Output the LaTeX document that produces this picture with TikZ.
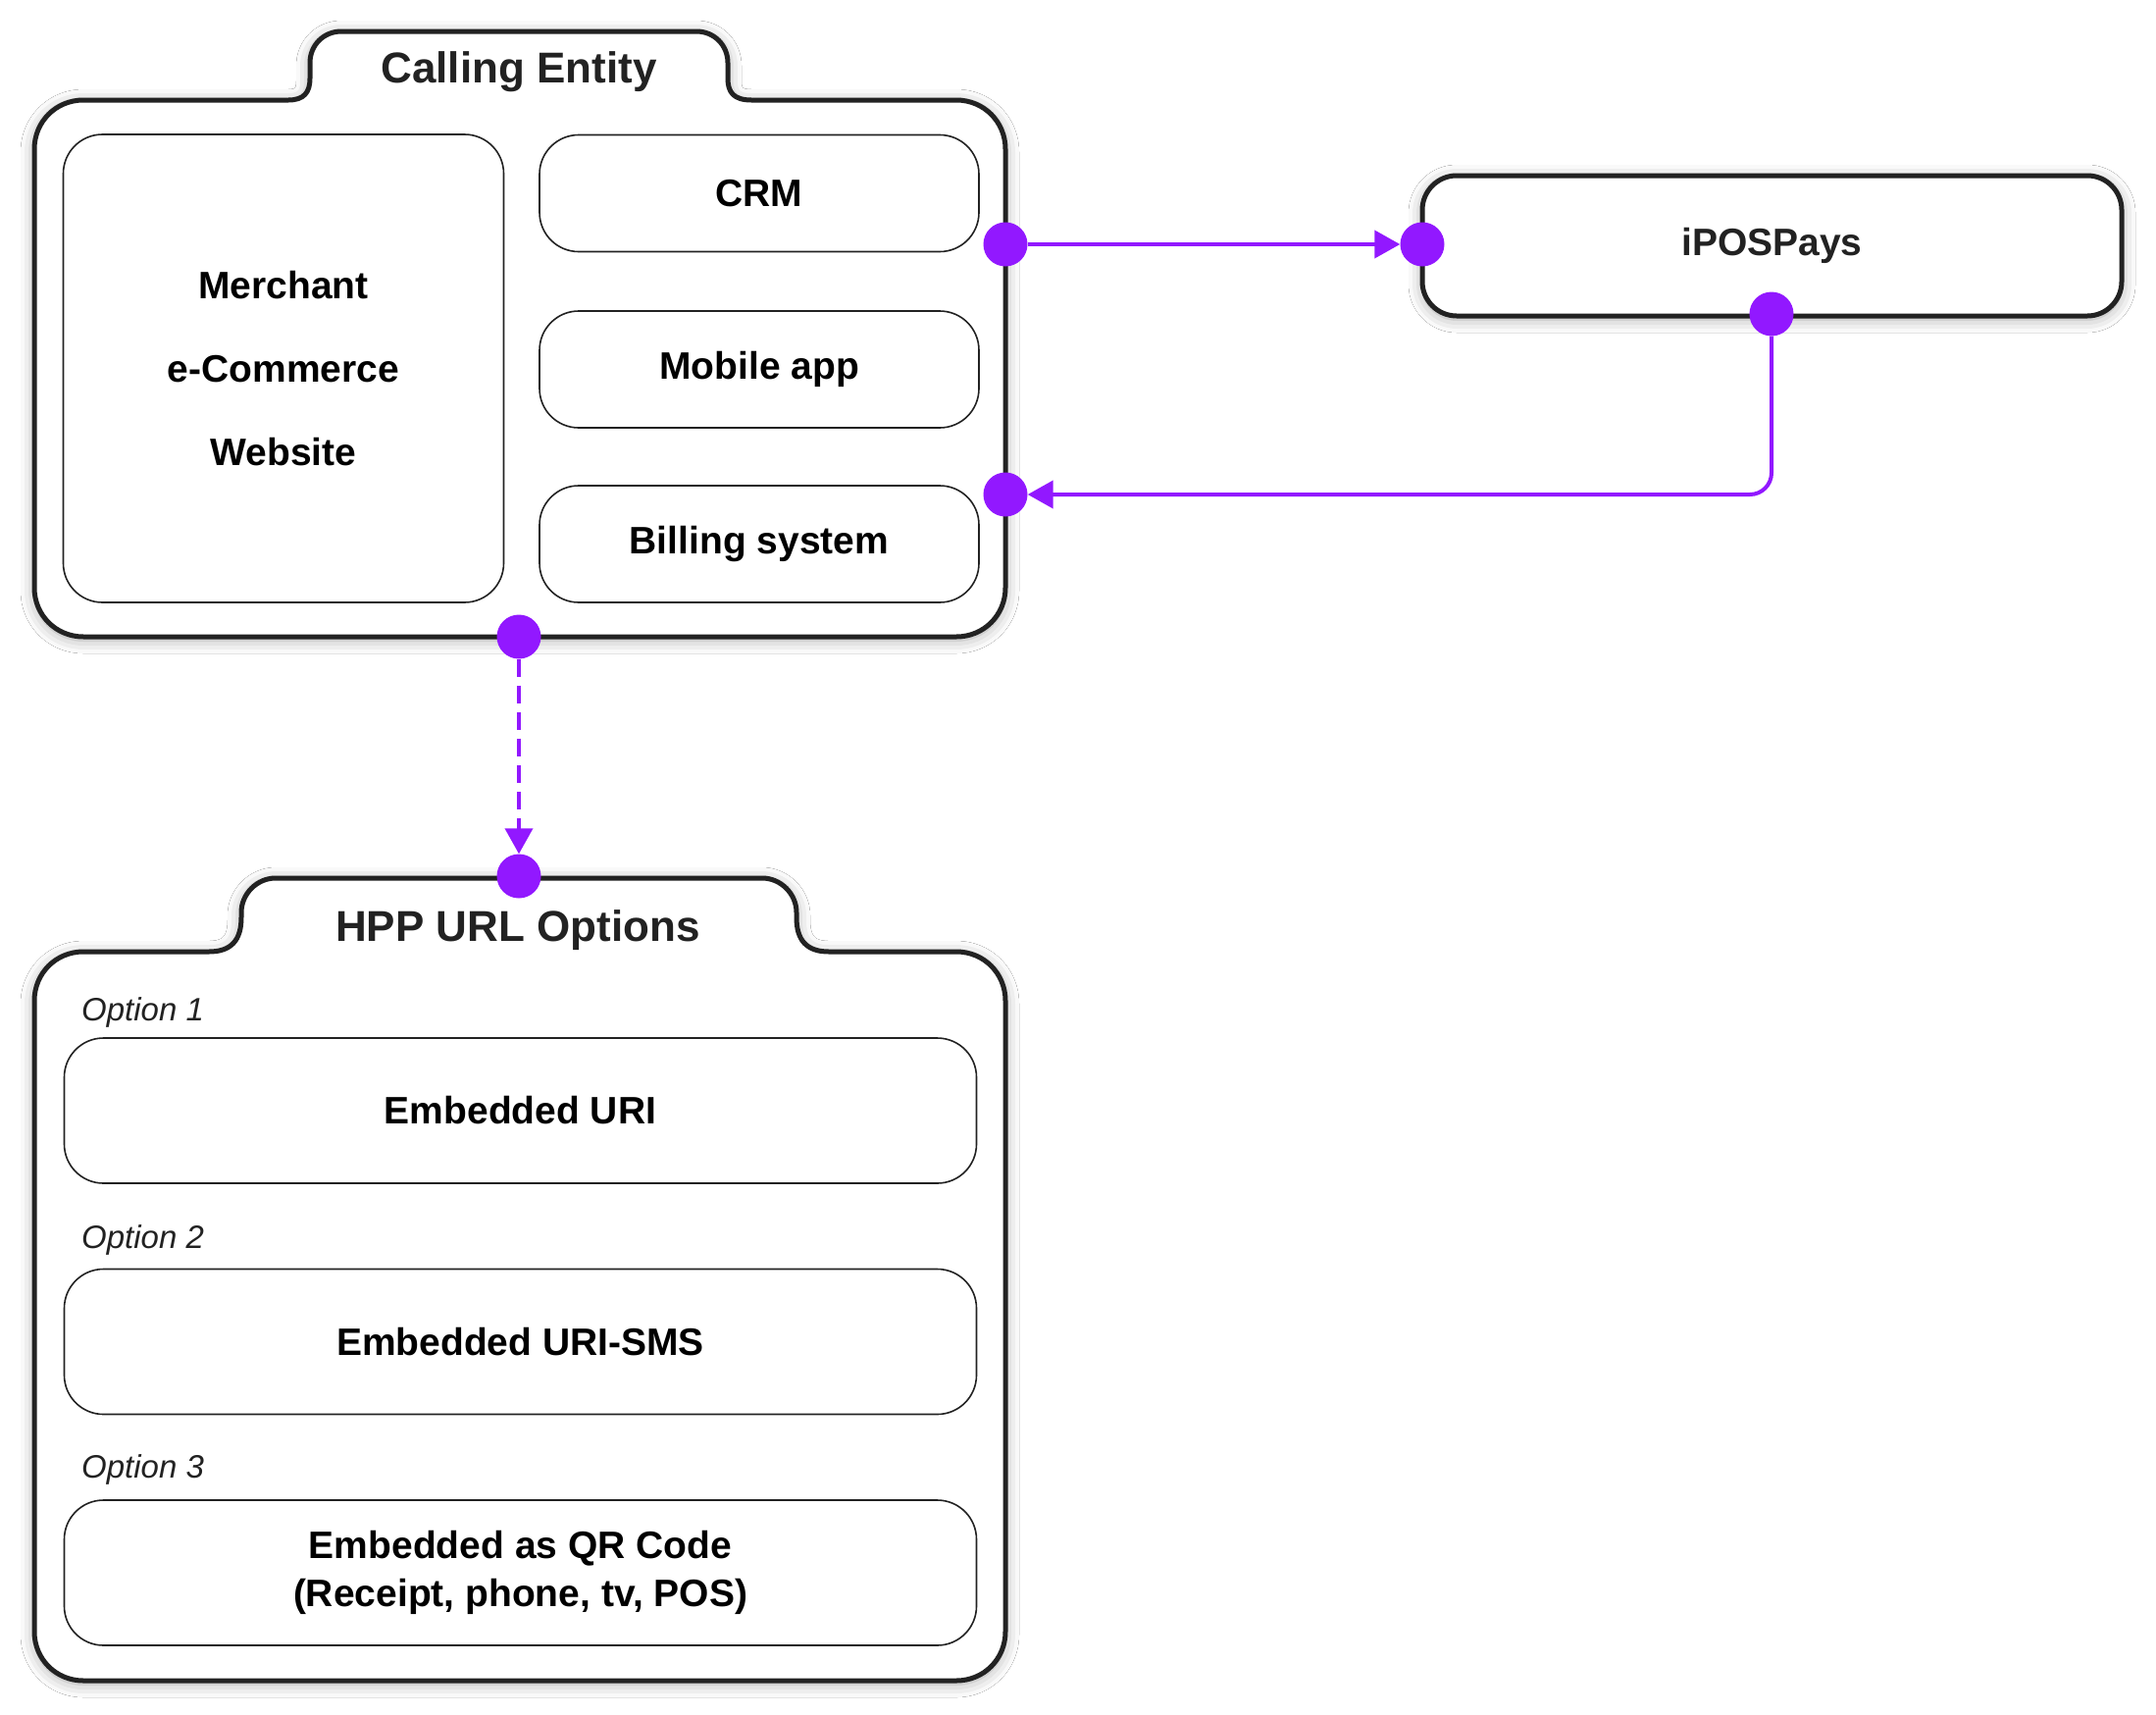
\documentclass[tikz,border=0pt]{standalone}
\usepackage{fontspec}
\setmainfont{Liberation Sans}
\usetikzlibrary{arrows.meta,shadows.blur}
\definecolor{pur}{RGB}{146,24,255}
\definecolor{ink}{RGB}{34,34,34}
\begin{document}
\begin{tikzpicture}[x=1pt,y=-1pt,
  container/.style={draw=ink, line width=5pt, fill=white, line join=round,
    blur shadow={shadow xshift=0pt, shadow yshift=-3pt, shadow blur radius=14pt, shadow opacity=35}},
  innerbox/.style={draw=ink, line width=1.6pt, rounded corners=40pt, fill=white,
    font=\fontsize{39}{46}\selectfont\bfseries, align=center, inner sep=0pt},
  title/.style={font=\fontsize{44}{50}\selectfont\bfseries, text=ink},
  optlabel/.style={font=\fontsize{33}{38}\selectfont\itshape, text=ink, anchor=west, inner sep=0pt},
  dot/.style={circle, fill=pur, minimum size=45pt, inner sep=0pt},
  link/.style={draw=pur, line width=4pt, -{Triangle[length=26pt,width=28pt]}},
  dlink/.style={draw=pur, line width=3.8pt, dash pattern=on 18pt off 9pt, -{Triangle[length=26pt,width=28pt]}}
]
\useasboundingbox[fill=white] (0,0) rectangle (2198,1748);

% Calling Entity container
\path[container] (35,152) .. controls (35,124) and (57,102) .. (85,102)
 -- (294,102) .. controls (310,102) and (316,94) .. (316,80)
 -- (316,64) .. controls (316,46) and (330,32) .. (348,32)
 -- (710,32) .. controls (728,32) and (742,46) .. (742,64)
 -- (742,80) .. controls (742,94) and (748,102) .. (766,102)
 -- (975,102) .. controls (1003,102) and (1025,124) .. (1025,152)
 -- (1025,599) .. controls (1025,627) and (1003,649) .. (975,649)
 -- (85,649) .. controls (57,649) and (35,627) .. (35,599) -- cycle;
\node[title] (cetitle) at (529,73) {Calling Entity};

\node[innerbox, minimum width=449pt, minimum height=477pt, font=\fontsize{39}{85}\selectfont\bfseries] (merchant) at (289,375.5) {Merchant\\e-Commerce\\Website};
\node[innerbox, minimum width=448pt, minimum height=119pt] (crm) at (774,197) {CRM};
\node[innerbox, minimum width=448pt, minimum height=119pt] (mobile) at (774,376.5) {Mobile app};
\node[innerbox, minimum width=448pt, minimum height=119pt] (billing) at (774,554.5) {Billing system};

% iPOSPays
\node[container, rounded corners=35pt, minimum width=713pt, minimum height=143pt, inner sep=0pt,
  font=\fontsize{39}{46}\selectfont\bfseries, text=ink] (ipos) at (1806.5,250.5) {iPOSPays};

% HPP URL Options container
\path[container] (35,1020) .. controls (35,992) and (57,970) .. (85,970)
 -- (213,970) .. controls (236,970) and (246,958) .. (246,935)
 -- (246,930) .. controls (246,911) and (262,895) .. (281,895)
 -- (777,895) .. controls (796,895) and (812,911) .. (812,930)
 -- (812,935) .. controls (812,958) and (822,970) .. (845,970)
 -- (975,970) .. controls (1003,970) and (1025,992) .. (1025,1020)
 -- (1025,1663) .. controls (1025,1691) and (1003,1713) .. (975,1713)
 -- (85,1713) .. controls (57,1713) and (35,1691) .. (35,1663) -- cycle;
\node[title] (hpptitle) at (528,948) {HPP URL Options};

\node[optlabel] (lab1) at (83,1032) {Option 1};
\node[innerbox, minimum width=930pt, minimum height=148pt] (opt1) at (530.5,1132) {Embedded URI};
\node[optlabel] (lab2) at (83,1264) {Option 2};
\node[innerbox, minimum width=930pt, minimum height=148pt] (opt2) at (530.5,1367.5) {Embedded URI-SMS};
\node[optlabel] (lab3) at (83,1498) {Option 3};
\node[innerbox, minimum width=930pt, minimum height=148pt, font=\fontsize{39}{49}\selectfont\bfseries] (opt3) at (530.5,1603) {Embedded as QR Code\\(Receipt, phone, tv, POS)};

% connection dots
\node[dot] (d1) at (1025,249) {};
\node[dot] (d2) at (1450,249) {};
\node[dot] (d3) at (1806,320) {};
\node[dot] (d4) at (1025,504) {};
\node[dot] (d5) at (529,649) {};
\node[dot] (d6) at (529,893) {};

% connectors
\draw[link] (d1) -- (d2);
\draw[link, rounded corners=22pt] (d3) |- (d4);
\draw[dlink] (d5) -- (d6);
\end{tikzpicture}
\end{document}
